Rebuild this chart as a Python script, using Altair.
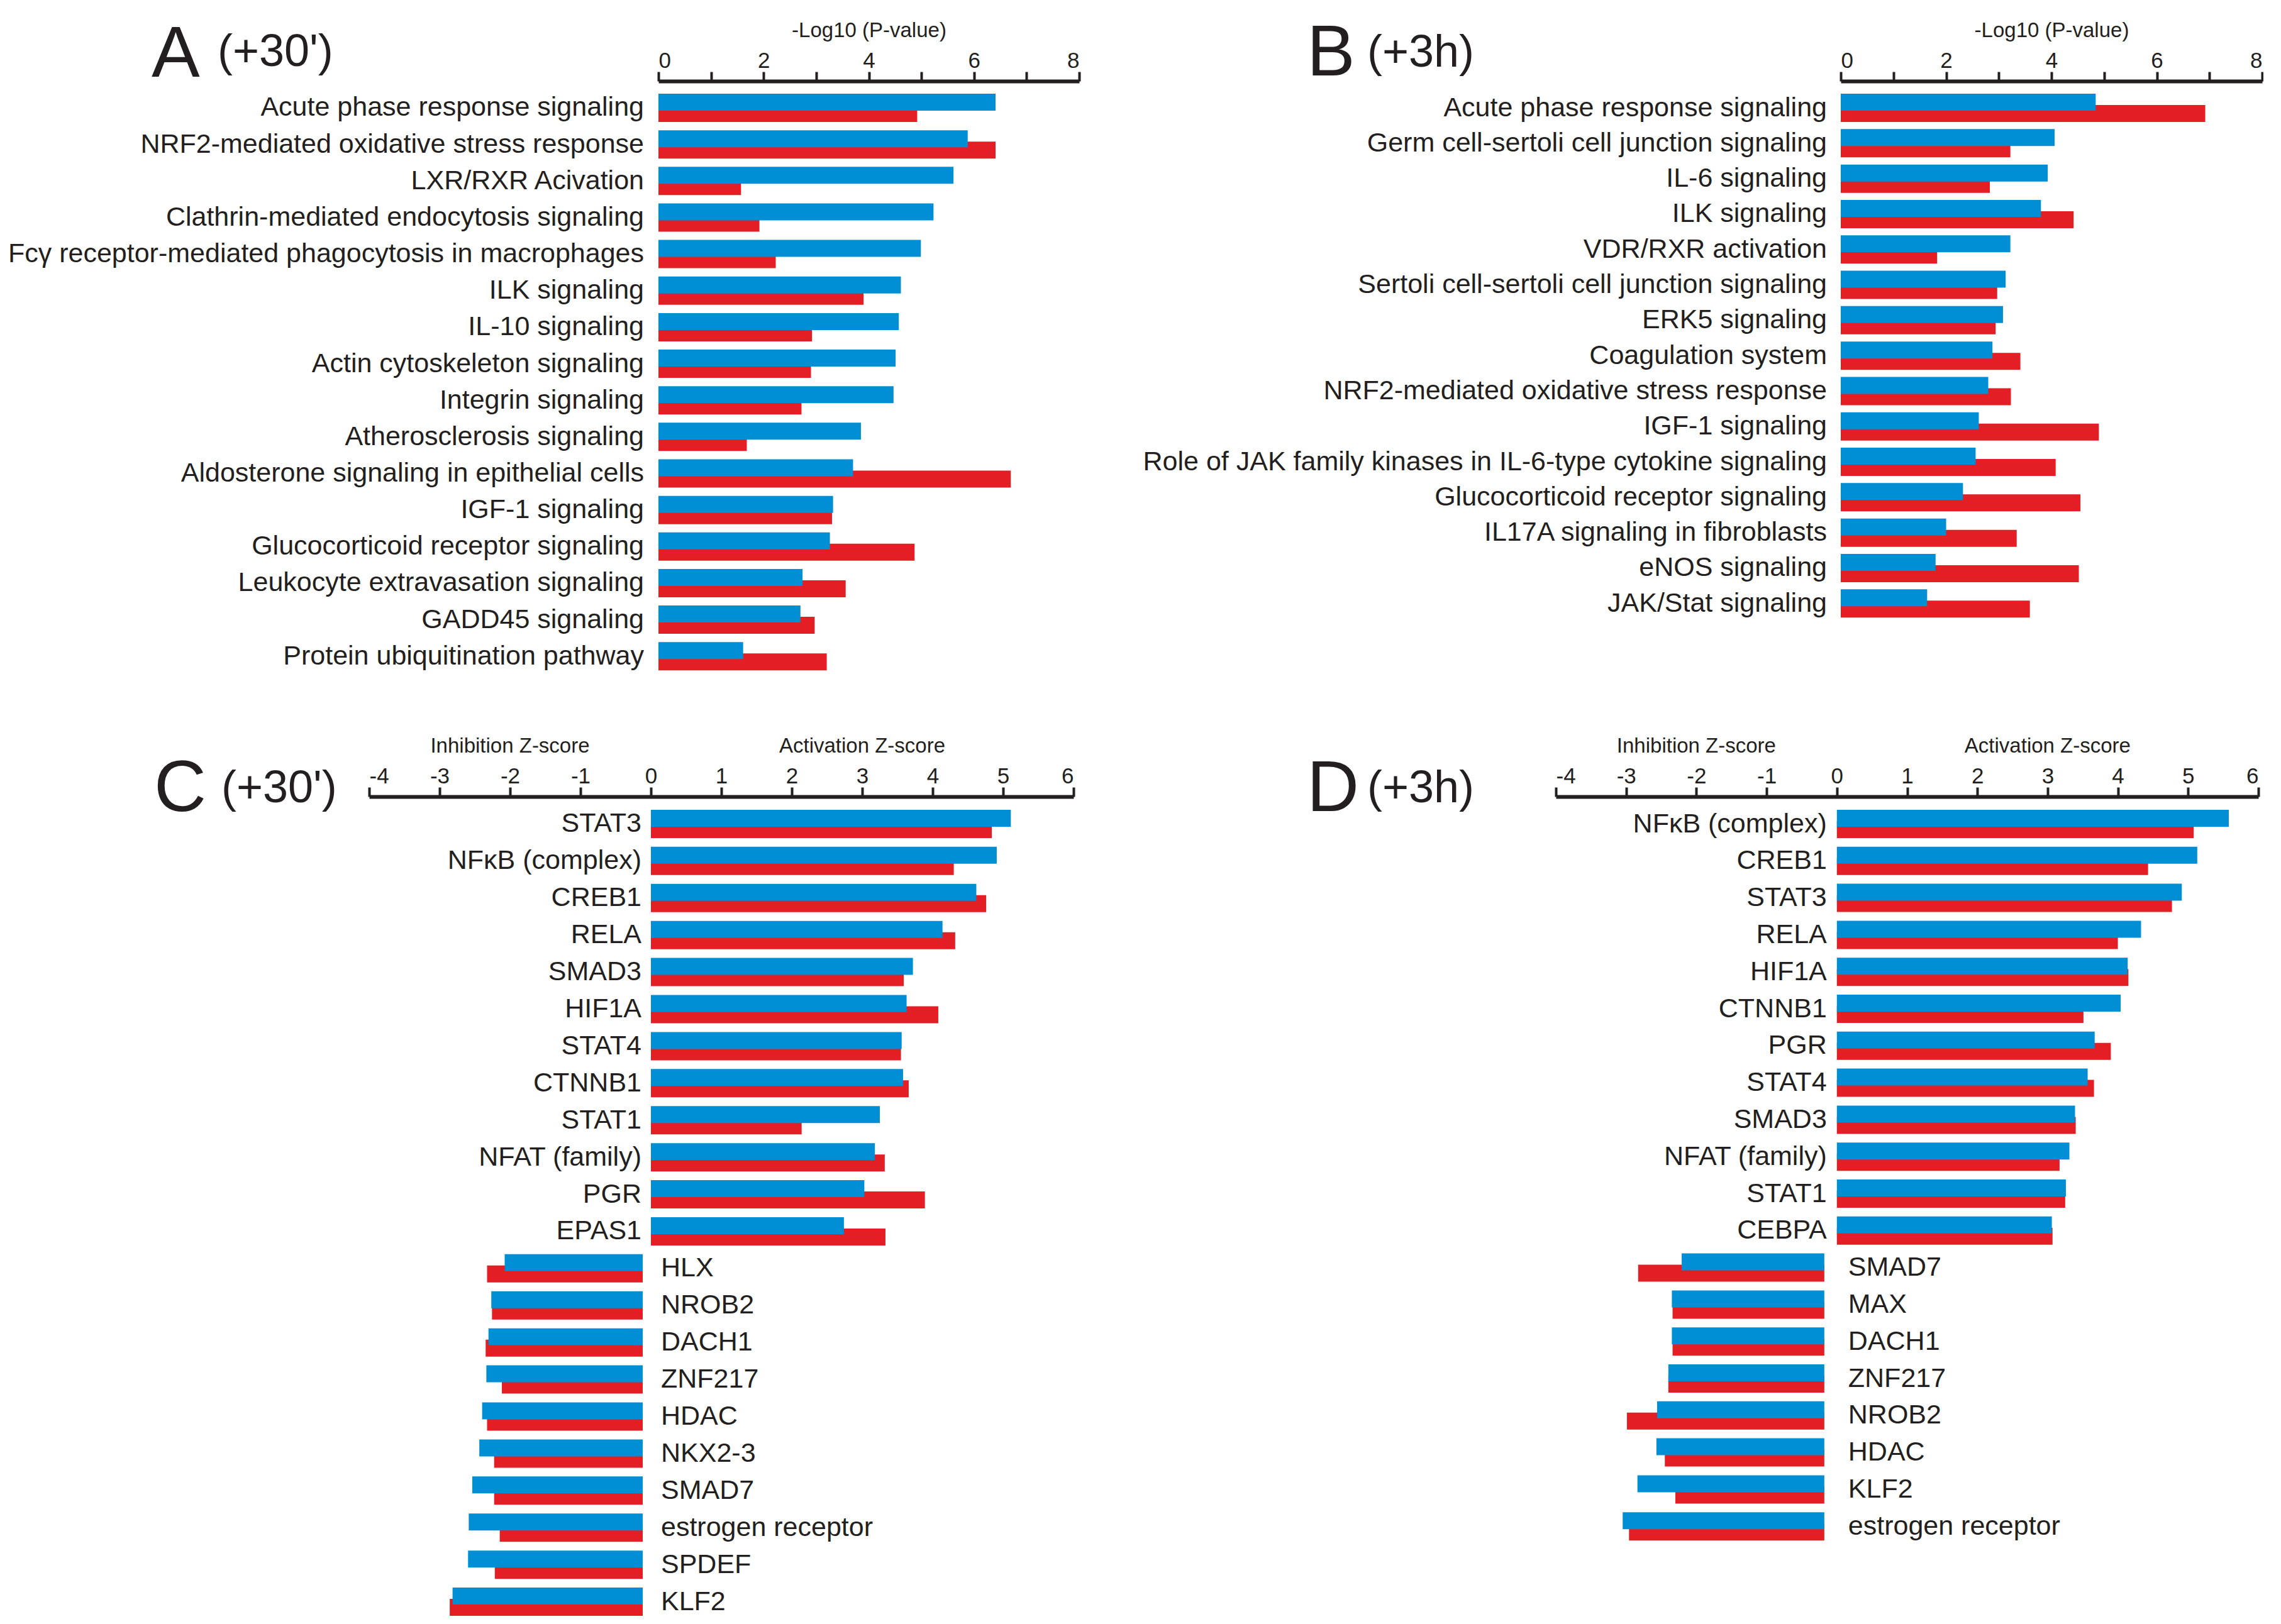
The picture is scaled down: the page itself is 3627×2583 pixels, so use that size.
import altair as alt
import pandas as pd

BLUE = "#008fd5"
RED = "#e31e24"
INK = "#231f20"
FONT = "Liberation Sans"

# ---------------- data ----------------
a_cats = ["Acute phase response signaling", "NRF2-mediated oxidative stress response",
          "LXR/RXR Acivation", "Clathrin-mediated endocytosis signaling",
          "Fcγ receptor-mediated phagocytosis in macrophages", "ILK signaling",
          "IL-10 signaling", "Actin cytoskeleton signaling", "Integrin signaling",
          "Atherosclerosis signaling", "Aldosterone signaling in epithelial cells",
          "IGF-1 signaling", "Glucocorticoid receptor signaling",
          "Leukocyte extravasation signaling", "GADD45 signaling",
          "Protein ubiquitination pathway"]
a_blue = [6.41, 5.88, 5.61, 5.23, 4.99, 4.61, 4.57, 4.51, 4.47, 3.85, 3.70, 3.32, 3.26, 2.74, 2.70, 1.61]
a_red = [4.92, 6.41, 1.57, 1.92, 2.23, 3.90, 2.92, 2.90, 2.72, 1.68, 6.70, 3.30, 4.87, 3.56, 2.97, 3.20]

b_cats = ["Acute phase response signaling", "Germ cell-sertoli cell junction signaling",
          "IL-6 signaling", "ILK signaling", "VDR/RXR activation",
          "Sertoli cell-sertoli cell junction signaling", "ERK5 signaling",
          "Coagulation system", "NRF2-mediated oxidative stress response",
          "IGF-1 signaling", "Role of JAK family kinases in IL-6-type cytokine signaling",
          "Glucocorticoid receptor signaling", "IL17A signaling in fibroblasts",
          "eNOS signaling", "JAK/Stat signaling"]
b_blue = [4.84, 4.06, 3.93, 3.80, 3.22, 3.13, 3.08, 2.88, 2.80, 2.62, 2.56, 2.32, 2.00, 1.80, 1.64]
b_red = [6.92, 3.22, 2.83, 4.42, 1.83, 2.97, 2.94, 3.41, 3.23, 4.90, 4.08, 4.55, 3.34, 4.52, 3.59]

c_cats = ["STAT3", "NFκB (complex)", "CREB1", "RELA", "SMAD3", "HIF1A", "STAT4", "CTNNB1",
          "STAT1", "NFAT (family)", "PGR", "EPAS1", "HLX", "NROB2", "DACH1", "ZNF217",
          "HDAC", "NKX2-3", "SMAD7", "estrogen receptor", "SPDEF", "KLF2"]
c_blue = [5.11, 4.91, 4.62, 4.14, 3.72, 3.63, 3.56, 3.58, 3.25, 3.18, 3.03, 2.74,
          -1.96, -2.15, -2.19, -2.22, -2.28, -2.32, -2.42, -2.47, -2.48, -2.70]
c_red = [4.84, 4.30, 4.76, 4.32, 3.59, 4.08, 3.55, 3.66, 2.14, 3.32, 3.89, 3.33,
         -2.21, -2.14, -2.23, -2.00, -2.21, -2.11, -2.11, -2.03, -2.10, -2.74]

d_cats = ["NFκB (complex)", "CREB1", "STAT3", "RELA", "HIF1A", "CTNNB1", "PGR", "STAT4",
          "SMAD3", "NFAT (family)", "STAT1", "CEBPA", "SMAD7", "MAX", "DACH1", "ZNF217",
          "NROB2", "HDAC", "KLF2", "estrogen receptor"]
d_blue = [5.58, 5.13, 4.91, 4.33, 4.14, 4.04, 3.67, 3.57, 3.39, 3.31, 3.26, 3.06,
          -2.03, -2.17, -2.17, -2.22, -2.38, -2.39, -2.66, -2.87]
d_red = [5.08, 4.43, 4.77, 4.00, 4.15, 3.51, 3.90, 3.66, 3.40, 3.17, 3.25, 3.07,
         -2.65, -2.16, -2.16, -2.22, -2.81, -2.27, -2.12, -2.78]

pval_ticks = [0, 1, 2, 3, 4, 5, 6, 7, 8]
z_ticks = [-4, -3, -2, -1, 0, 1, 2, 3, 4, 5, 6]

LABEL_SIZE = 43


def make_axis(ticks, every_other, title):
    kw = dict(orient="top", values=ticks, grid=False,
              domainColor=INK, domainWidth=6, tickColor=INK, tickWidth=4, tickSize=15,
              labelColor=INK, labelFont=FONT, labelFontSize=35, labelPadding=0,
              labelExpr=("datum.value % 2 == 0 ? '' + datum.value : ''" if every_other
                         else "'' + datum.value"))
    if title:
        kw.update(title=title, titleFont=FONT, titleFontSize=33, titleFontWeight="normal",
                  titleColor=INK, titlePadding=14)
    else:
        kw.update(title=None)
    return alt.Axis(**kw)


def panel(cats, blue, red, domain, ticks, every_other, axis_title, xrange, yrange,
          width, height, dx_pos, dx_neg, neg_gap, letter, sub, letter_xy, sub_xy,
          ztitles=None):
    df = pd.DataFrame({"cat": cats, "blue": blue, "red": red})
    axis = make_axis(ticks, every_other, axis_title)
    xscale = alt.Scale(domain=domain, range=xrange, nice=False, zero=False)

    def X(field=None, datum=None):
        if field is not None:
            return alt.X(f"{field}:Q", scale=xscale, axis=axis, stack=None)
        return alt.X(datum=datum, type="quantitative", scale=xscale, axis=axis)

    Y = alt.Y("cat:N", sort=cats, axis=None,
              scale=alt.Scale(range=yrange, paddingInner=0, paddingOuter=0))

    base = alt.Chart(df)
    pos = base.transform_filter("datum.blue > 0")
    # inhibition bars sit a small gap to the left of the zero line, as in the figure
    neg = base.transform_filter("datum.blue < 0").transform_calculate(
        rs=f"datum.red - {neg_gap}", bs=f"datum.blue - {neg_gap}", z0=f"-{neg_gap}"
    )
    layers = [
        pos.mark_bar(color=RED, height=27, yOffset=9).encode(x=X("red"), y=Y),
        neg.mark_bar(color=RED, height=27, yOffset=9).encode(
            x=X("rs"), x2=alt.X2("z0:Q"), y=Y),
        pos.mark_bar(color=BLUE, height=27, yOffset=-9).encode(x=X("blue"), y=Y),
        neg.mark_bar(color=BLUE, height=27, yOffset=-9).encode(
            x=X("bs"), x2=alt.X2("z0:Q"), y=Y),
        pos.mark_text(align="right", baseline="middle", dx=dx_pos, fontSize=LABEL_SIZE,
                      font=FONT, color=INK).encode(x=X(datum=0), y=Y, text="cat:N"),
        neg.mark_text(align="left", baseline="middle", dx=dx_neg, fontSize=LABEL_SIZE,
                      font=FONT, color=INK).encode(x=X(datum=0), y=Y, text="cat:N"),
        alt.Chart(pd.DataFrame({"t": [letter]})).mark_text(
            align="left", baseline="alphabetic", fontSize=115, font=FONT, color=INK
        ).encode(text="t:N", x=alt.value(letter_xy[0]), y=alt.value(letter_xy[1])),
        alt.Chart(pd.DataFrame({"t": [sub]})).mark_text(
            align="left", baseline="alphabetic", fontSize=72, font=FONT, color=INK
        ).encode(text="t:N", x=alt.value(sub_xy[0]), y=alt.value(sub_xy[1])),
    ]
    if ztitles:
        for txt, xv in ztitles:
            layers.append(alt.Chart(pd.DataFrame({"t": [txt]})).mark_text(
                align="center", baseline="alphabetic", fontSize=33, font=FONT, color=INK
            ).encode(text="t:N", x=X(datum=xv), y=alt.value(-70)))
    return alt.layer(*layers).properties(width=width, height=height)


# views: column 1 starts where panel C's axis starts; column 2 where panel D's axis starts
A = panel(a_cats, a_blue, a_red, [0, 8], pval_ticks, True, "-Log10 (P-value)",
          [460, 1129], [13.4, 943.8], 1129, 960, -23, 18, 0,
          "A", "(+30')", (-346, -7), (-241, -24))
B = panel(b_cats, b_blue, b_red, [0, 8], pval_ticks, True, "-Log10 (P-value)",
          [453, 1123], [14.4, 858.9], 1123, 960, -22, 18, 0,
          "B", "(+3h)", (-396, -9), (-300, -23))
C = panel(c_cats, c_blue, c_red, [-4, 6], z_ticks, False, None,
          [0, 1120], [14.0, 1310.0], 1120, 1320, -15, 16, 0.116,
          "C", "(+30')", (-342, 23), (-235, 9),
          ztitles=[("Inhibition Z-score", -2), ("Activation Z-score", 3)])
D = panel(d_cats, d_blue, d_red, [-4, 6], z_ticks, False, None,
          [0, 1117], [14.1, 1190.1], 1117, 1200, -16, 18, 0.179,
          "D", "(+3h)", (-396, 23), (-300, 9),
          ztitles=[("Inhibition Z-score", -2), ("Activation Z-score", 3)])

chart = alt.concat(
    A, B, C, D, columns=2, spacing={"row": 178, "column": 758}, bounds="flush"
).resolve_scale(
    x="independent", y="independent"
).properties(
    padding={"left": 4, "top": 20, "right": 0, "bottom": 0},
    background="white",
).configure_view(stroke=None)

chart.save("out.html", embed_options={"renderer": "svg", "actions": False})
